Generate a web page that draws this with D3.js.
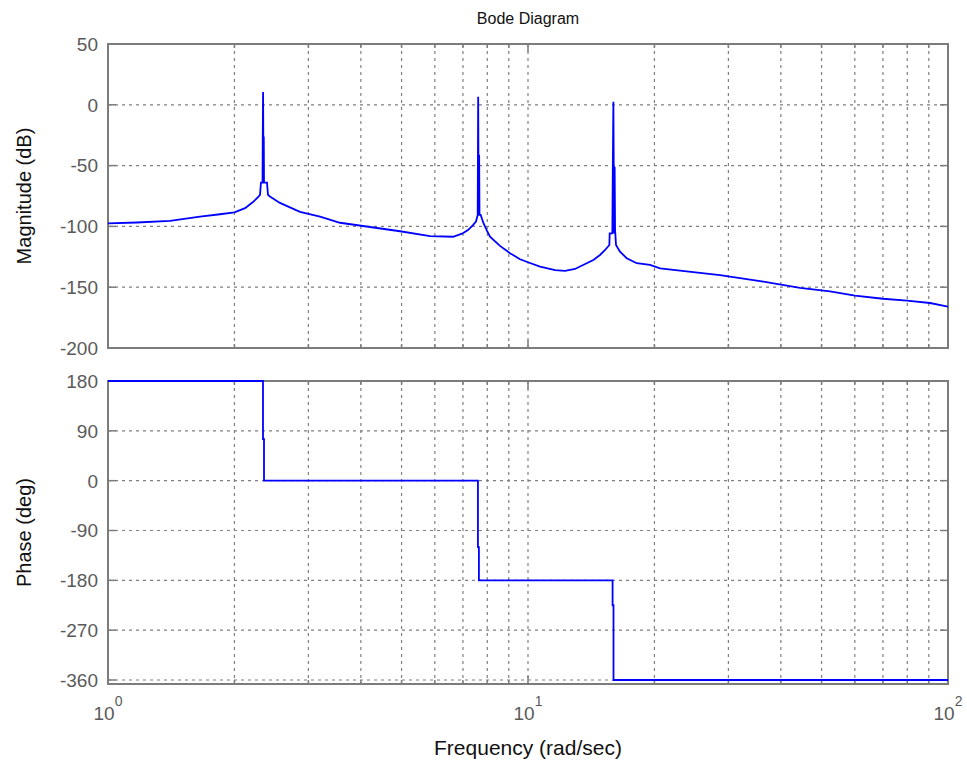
<!DOCTYPE html>
<html>
<head>
<meta charset="utf-8">
<script src="https://cdn.jsdelivr.net/npm/d3@7"></script>
<style>
  html, body { margin: 0; padding: 0; background: #ffffff; }
  svg { display: block; }
</style>
</head>
<body>
<svg id="chart" width="967" height="765"></svg>
<script>
// ---------------- DATA ----------------
const magFreq = [1.000, 1.172, 1.405, 1.656, 1.848, 2.000, 2.120, 2.214, 2.276, 2.301, 2.313, 2.333, 2.336, 2.340, 2.343, 2.346, 2.349, 2.352, 2.391, 2.404, 2.430, 2.567, 2.865, 3.198, 3.568, 4.206, 4.958, 5.845, 6.630, 6.965, 7.197, 7.396, 7.519, 7.590, 7.600, 7.610, 7.620, 7.635, 7.650, 7.665, 7.715, 7.826, 7.973, 8.119, 8.577, 9.061, 9.572, 10.00, 10.68, 11.60, 12.25, 12.94, 13.30, 14.31, 14.84, 15.26, 15.62, 15.65, 15.88, 15.92, 15.97, 16.00, 16.04, 16.08, 16.12, 16.14, 16.20, 16.56, 17.18, 18.15, 19.52, 20.63, 23.01, 28.65, 35.68, 44.43, 52.36, 60.04, 70.01, 79.88, 90.6, 100];
const magDb   = [-97.5, -96.8, -95.5, -92, -90, -88.5, -85, -80, -76, -74, -64, -64, -26, 10.5, -26, -64, -26, -64, -64, -74, -75.5, -80.7, -88, -92, -97, -100.5, -104, -108, -108.5, -106, -103, -99, -96, -90.6, -41, 6.7, -41, -90.6, -41, -90.6, -90.6, -97, -103, -108.5, -116, -122, -127, -129.5, -133, -136, -136.5, -135, -133, -127.6, -123.5, -119.4, -115.3, -105.7, -105.7, -51, 2.6, -51, -105.7, -51, -105.7, -105.7, -115.3, -120.8, -126.2, -130.3, -131.7, -134.5, -136.4, -140, -145, -150.5, -153.5, -157, -159.5, -161, -163, -166];

const phaseFreq = [1, 2.339, 2.339, 2.352, 2.352, 7.600, 7.600, 7.640, 7.640, 15.90, 15.90, 15.98, 15.98, 100];
const phaseDeg  = [180, 180, 75, 75, 0, 0, -120, -120, -180, -180, -225, -225, -360, -360];

const magTicks = [50, 0, -50, -100, -150, -200];
const phaseTicks = [180, 90, 0, -90, -180, -270, -360];
const decadeTicks = [1, 10, 100];
const decadeExp = ["0", "1", "2"];
const minorTicks = [2, 3, 4, 5, 6, 7, 8, 9, 20, 30, 40, 50, 60, 70, 80, 90];

const titleText = "Bode Diagram";
const xLabelText = "Frequency (rad/sec)";
const magLabelText = "Magnitude (dB)";
const phaseLabelText = "Phase (deg)";

// ---------------- LAYOUT ----------------
const svg = d3.select("#chart");
const left = 108, right = 948;
const magTop = 44, magBottom = 348;
const phTop = 381, phBottom = 684;

const x = d3.scaleLog().domain([1, 100]).range([left, right]);
const yMag = d3.scaleLinear().domain([-200, 50]).range([magBottom, magTop]);
const yPh = d3.scaleLinear().domain([-367.2, 180]).range([phBottom, phTop]);

const frameColor = "#7a7d7a";
const gridColor = "#7f7f7f";
const tickTextColor = "#5a5a5a";
const font = "'Liberation Sans', Arial, sans-serif";

const defs = svg.append("defs");

function panel(id, y, top, bottom, ticks, freqs, vals, gridSkip) {
  defs.append("clipPath").attr("id", id)
    .append("rect").attr("x", left).attr("y", top - 2)
    .attr("width", right - left).attr("height", bottom - top + 2);

  const g = svg.append("g");
  // vertical grid
  g.append("g").selectAll("line")
    .data(minorTicks.concat([10]))
    .join("line")
    .attr("x1", d => x(d)).attr("x2", d => x(d))
    .attr("y1", top).attr("y2", bottom)
    .attr("stroke", gridColor).attr("stroke-width", 1.2)
    .attr("stroke-dasharray", "3,4");
  // horizontal grid
  g.append("g").selectAll("line")
    .data(ticks.filter(t => !gridSkip.includes(t)))
    .join("line")
    .attr("x1", left).attr("x2", right)
    .attr("y1", d => y(d)).attr("y2", d => y(d))
    .attr("stroke", gridColor).attr("stroke-width", 1.2)
    .attr("stroke-dasharray", "3,4");

  // y ticks (inside, both sides)
  const yt = g.append("g");
  yt.selectAll("line.l").data(ticks).join("line").attr("class", "l")
    .attr("x1", left).attr("x2", left + 8)
    .attr("y1", d => y(d)).attr("y2", d => y(d))
    .attr("stroke", frameColor).attr("stroke-width", 1.5);
  yt.selectAll("line.r").data(ticks).join("line").attr("class", "r")
    .attr("x1", right - 8).attr("x2", right)
    .attr("y1", d => y(d)).attr("y2", d => y(d))
    .attr("stroke", frameColor).attr("stroke-width", 1.5);
  // x ticks (inside, top and bottom)
  const xt = g.append("g");
  [[top, 1], [bottom, -1]].forEach(([yy, dir]) => {
    xt.append("g").selectAll("line").data(decadeTicks).join("line")
      .attr("x1", d => x(d)).attr("x2", d => x(d))
      .attr("y1", yy).attr("y2", yy + dir * 8)
      .attr("stroke", frameColor).attr("stroke-width", 1.5);
    xt.append("g").selectAll("line").data(minorTicks).join("line")
      .attr("x1", d => x(d)).attr("x2", d => x(d))
      .attr("y1", yy).attr("y2", yy + dir * 4)
      .attr("stroke", frameColor).attr("stroke-width", 1.5);
  });

  // y tick labels
  g.append("g").selectAll("text").data(ticks).join("text")
    .attr("x", left - 10).attr("y", d => y(d))
    .attr("dy", "0.36em")
    .attr("text-anchor", "end")
    .attr("font-family", font).attr("font-size", 19)
    .attr("fill", tickTextColor)
    .text(d => d);

  // frame
  g.append("rect").attr("x", left).attr("y", top)
    .attr("width", right - left).attr("height", bottom - top)
    .attr("fill", "none").attr("stroke", frameColor).attr("stroke-width", 2);

  // data line
  const pts = freqs.map((f, i) => [f, vals[i]]);
  const line = d3.line().x(d => x(d[0])).y(d => y(d[1]));
  svg.append("path")
    .attr("clip-path", `url(#${id})`)
    .attr("d", line(pts))
    .attr("fill", "none")
    .attr("stroke", "#0000ff")
    .attr("stroke-width", 1.8)
    .attr("stroke-linejoin", "miter");
}

panel("clipMag", yMag, magTop, magBottom, magTicks, magFreq, magDb, [50, -200]);
panel("clipPh", yPh, phTop, phBottom, phaseTicks, phaseFreq, phaseDeg, [180]);

// x tick labels 10^n
const xl = svg.append("g");
decadeTicks.forEach((d, i) => {
  const t = xl.append("text")
    .attr("x", x(d)).attr("y", 720)
    .attr("text-anchor", "middle")
    .attr("font-family", font).attr("font-size", 19)
    .attr("fill", tickTextColor);
  t.append("tspan").text("10");
  t.append("tspan").attr("dy", -14).attr("font-size", 14).text(decadeExp[i]);
});

// titles and axis labels
svg.append("text")
  .attr("x", (left + right) / 2).attr("y", 24)
  .attr("text-anchor", "middle")
  .attr("font-family", font).attr("font-size", 16)
  .attr("fill", "#111")
  .text(titleText);

svg.append("text")
  .attr("x", (left + right) / 2).attr("y", 755)
  .attr("text-anchor", "middle")
  .attr("font-family", font).attr("font-size", 21)
  .attr("fill", "#111")
  .text(xLabelText);

svg.append("text")
  .attr("transform", `translate(31,${(magTop + magBottom) / 2}) rotate(-90)`)
  .attr("text-anchor", "middle")
  .attr("font-family", font).attr("font-size", 20)
  .attr("fill", "#111")
  .text(magLabelText);

svg.append("text")
  .attr("transform", `translate(31,${(phTop + phBottom) / 2}) rotate(-90)`)
  .attr("text-anchor", "middle")
  .attr("font-family", font).attr("font-size", 20)
  .attr("fill", "#111")
  .text(phaseLabelText);
</script>
</body>
</html>
